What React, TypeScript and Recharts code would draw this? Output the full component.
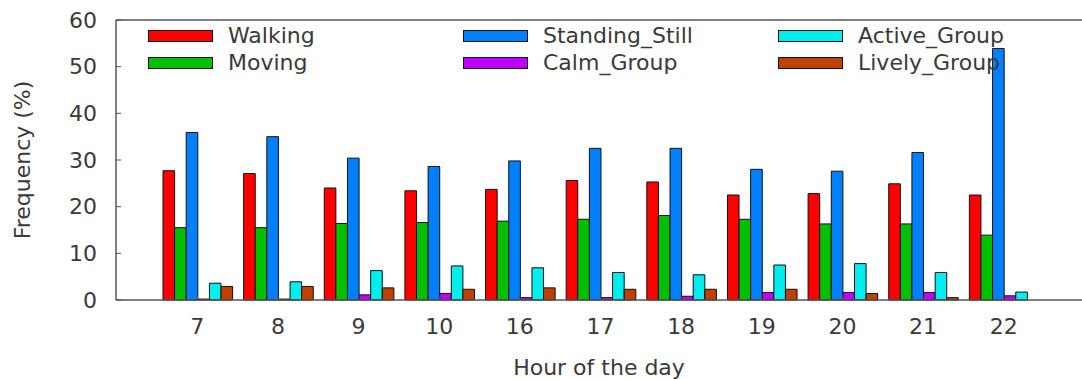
import { BarChart, Bar, XAxis, YAxis, Legend } from 'recharts'

const HOURS = ['7', '8', '9', '10', '16', '17', '18', '19', '20', '21', '22']
const WALKING = [27.7, 27.1, 24.0, 23.4, 23.7, 25.6, 25.3, 22.5, 22.8, 24.9, 22.5]
const MOVING = [15.5, 15.5, 16.4, 16.6, 16.9, 17.3, 18.1, 17.3, 16.3, 16.3, 13.9]
const STANDING_STILL = [35.9, 35.0, 30.4, 28.6, 29.8, 32.5, 32.5, 28.0, 27.6, 31.6, 53.9]
const CALM_GROUP = [0.2, 0.2, 1.1, 1.4, 0.5, 0.5, 0.8, 1.6, 1.6, 1.6, 0.9]
const ACTIVE_GROUP = [3.6, 3.9, 6.3, 7.3, 6.9, 5.9, 5.4, 7.5, 7.8, 5.9, 1.7]
const LIVELY_GROUP = [2.9, 2.9, 2.6, 2.3, 2.6, 2.3, 2.3, 2.3, 1.4, 0.5, 0]
const Y_TICKS = [0, 10, 20, 30, 40, 50, 60]

const SERIES = [
  { key: 'Walking', values: WALKING, color: '#ff0000' },
  { key: 'Moving', values: MOVING, color: '#00c000' },
  { key: 'Standing_Still', values: STANDING_STILL, color: '#0080ff' },
  { key: 'Calm_Group', values: CALM_GROUP, color: '#c000ff' },
  { key: 'Active_Group', values: ACTIVE_GROUP, color: '#00eeee' },
  { key: 'Lively_Group', values: LIVELY_GROUP, color: '#c04000' },
]

const FONT = '"DejaVu Sans", sans-serif'
const TEXT = '#3a3a3a'
const AXIS = '#555'

const data = HOURS.map((hour, i) => {
  const row: Record<string, string | number> = { hour }
  SERIES.forEach((s) => {
    row[s.key] = s.values[i]
  })
  return row
})

function GnuplotLegend() {
  // two rows, three columns, filled column by column
  const columns = [SERIES.slice(0, 2), SERIES.slice(2, 4), SERIES.slice(4, 6)]
  return (
    <div style={{ display: 'flex', fontFamily: FONT, fontSize: 22, color: TEXT }}>
      {columns.map((col, ci) => (
        <div key={ci} style={{ width: 315 }}>
          {col.map((s) => (
            <div key={s.key} style={{ display: 'flex', alignItems: 'center', height: 27 }}>
              <div
                style={{
                  width: 63,
                  height: 10,
                  background: s.color,
                  border: '1px solid #111',
                  marginRight: 15,
                }}
              />
              <span style={{ lineHeight: '27px' }}>{s.key}</span>
            </div>
          ))}
        </div>
      ))}
    </div>
  )
}

export default function App() {
  const textStyle = { fontSize: 22, fill: TEXT, fontFamily: FONT }
  return (
    <div style={{ position: 'absolute', left: 0, top: 0, background: '#fff' }}>
      <BarChart
        width={1082}
        height={379}
        data={data}
        margin={{ top: 19, right: 0, bottom: 0, left: 0 }}
        barGap={0}
      >
        <XAxis
          dataKey="hour"
          height={79}
          padding={{ left: 41, right: 38 }}
          axisLine={{ stroke: AXIS, strokeWidth: 1.5 }}
          tickLine={{ stroke: AXIS }}
          tickSize={-5}
          tickMargin={23}
          tick={textStyle}
          label={{ value: 'Hour of the day', position: 'insideBottom', offset: 4, ...textStyle }}
        />
        <XAxis
          xAxisId="top"
          dataKey="hour"
          orientation="top"
          height={1}
          padding={{ left: 41, right: 38 }}
          axisLine={{ stroke: AXIS, strokeWidth: 1.5 }}
          tickLine={{ stroke: AXIS }}
          tickSize={-5}
          tick={false}
        />
        <YAxis
          width={116}
          domain={[0, 60]}
          ticks={Y_TICKS}
          axisLine={{ stroke: AXIS, strokeWidth: 1.5 }}
          tickLine={{ stroke: AXIS }}
          tickSize={-5}
          tickMargin={24}
          tick={textStyle}
          label={{ value: 'Frequency (%)', angle: -90, position: 'center', dx: -36, ...textStyle }}
        />
        <Legend
          layout="horizontal"
          align="center"
          verticalAlign="middle"
          content={() => <GnuplotLegend />}
          wrapperStyle={{ top: 22, left: 148, width: 'auto' }}
        />
        {SERIES.map((s) => (
          <Bar
            key={s.key}
            dataKey={s.key}
            fill={s.color}
            stroke="#111"
            strokeWidth={1}
            barSize={11.6}
            isAnimationActive={false}
          />
        ))}
      </BarChart>
    </div>
  )
}
